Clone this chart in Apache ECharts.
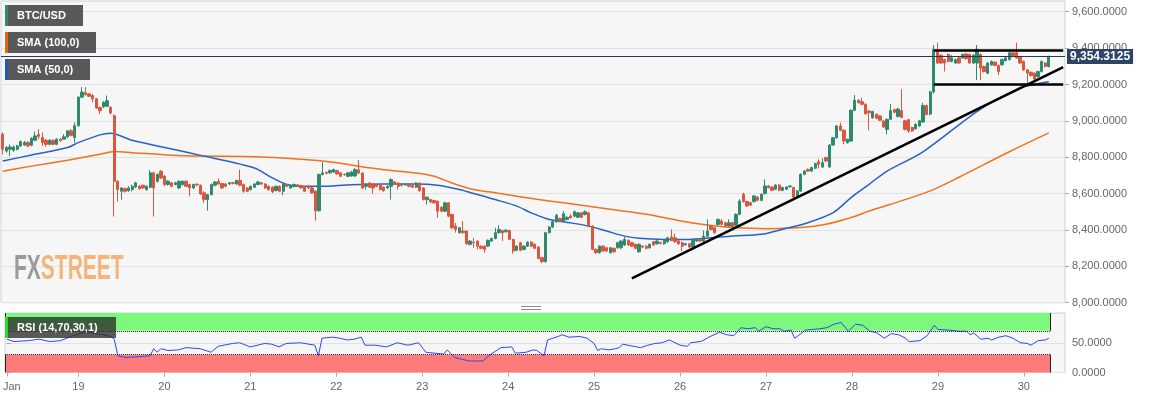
<!DOCTYPE html>
<html>
<head>
<meta charset="utf-8">
<script src="https://cdn.jsdelivr.net/npm/echarts@6/dist/echarts.min.js"></script>
<style>
html,body{margin:0;padding:0;background:#fff;}
#chart{width:1153px;height:399px;}
</style>
</head>
<body>
<div id="chart"></div>
<script>
// ---- categories: hourly candles, Jan 18 04:00 -> (296 slots) ----
const hourLabels = [];
const startTime = Date.UTC(2020, 0, 18, 4);
for (let i = 0; i < 296; i++) {
  const d = new Date(startTime + i * 3600000);
  hourLabels.push('Jan ' + d.getUTCDate() + ' ' + String(d.getUTCHours()).padStart(2, '0') + ':00');
}

// ---- BTC/USD hourly candles ----
const opens = [
8927,8834,8844,8838,8844,8862,8868,8881,8866,8893,8925,8908,8893,8871,8893,8871,8899,8899,8912,8945,
8908,8973,9130,9154,9148,9139,9121,9074,9078,9080,9074,9028,8668,8613,8627,8616,8622,8636,8640,8646,
8622,8635,8714,8668,8723,8696,8650,8659,8650,8631,8650,8668,8650,8631,8652,8646,8604,8567,8594,8646,
8668,8655,8653,8653,8660,8653,8672,8650,8631,8622,8635,8650,8659,8653,8640,8635,8617,8640,8613,8650,
8631,8640,8648,8644,8637,8640,8631,8613,8506,8705,8716,8714,8719,8727,8714,8706,8695,8697,8697,8731,
8713,8640,8658,8653,8649,8646,8635,8631,8640,8664,8658,8647,8648,8649,8646,8635,8658,8631,8567,8567,
8562,8558,8525,8503,8549,8485,8421,8385,8394,8394,8321,8332,8339,8311,8311,8311,8339,8353,8385,8397,
8390,8397,8348,8288,8330,8293,8311,8333,8321,8306,8248,8226,8385,8416,8445,8463,8448,8458,8476,8476,
8470,8494,8485,8494,8421,8293,8275,8311,8302,8275,8299,8302,8302,8317,8343,8330,8321,8280,8311,8311,
8302,8335,8324,8330,8324,8335,8361,8357,8339,8330,8319,8324,8306,8339,8348,8339,8366,8421,8412,8430,
8449,8440,8422,8440,8427,8486,8596,8556,8550,8556,8581,8563,8600,8642,8636,8624,8647,8618,8624,8638,
8633,8587,8614,8706,8733,8724,8739,8776,8746,8798,8746,8867,8907,8972,8948,8880,8889,9058,9113,9105,
9091,9054,9017,9036,9027,8999,8953,9009,9062,9024,9056,9000,9006,8963,8957,8972,8994,9084,9037,9159,
9380,9361,9337,9365,9327,9318,9346,9346,9368,9365,9318,9318,9365,9299,9262,9308,9323,9305,9308,9331,
9337,9374,9374,9350,9327,9280,9267,9262,9243,9271,9318,9299];
const closes = [
8844,8853,8856,8856,8862,8886,8881,8862,8904,8917,8915,8880,8871,8893,8871,8899,8890,8912,8945,8920,
8973,9130,9158,9145,9135,9121,9071,9056,9102,9111,9043,8668,8622,8631,8613,8631,8640,8659,8627,8631,
8640,8714,8631,8705,8686,8650,8668,8640,8659,8668,8668,8640,8631,8650,8648,8598,8567,8594,8650,8664,
8653,8631,8640,8659,8657,8672,8646,8613,8613,8640,8653,8664,8653,8631,8622,8609,8640,8613,8653,8640,
8646,8650,8642,8631,8613,8631,8604,8506,8705,8714,8712,8727,8732,8708,8695,8704,8714,8719,8732,8713,
8631,8653,8635,8631,8640,8622,8616,8640,8677,8653,8640,8645,8650,8640,8635,8658,8616,8567,8580,8554,
8549,8503,8503,8549,8476,8412,8403,8412,8385,8324,8339,8329,8311,8299,8293,8343,8353,8385,8403,8385,
8399,8348,8284,8311,8288,8311,8333,8311,8299,8244,8226,8385,8416,8445,8481,8448,8489,8470,8467,8500,
8494,8470,8500,8421,8293,8275,8311,8284,8284,8302,8280,8330,8339,8348,8317,8311,8299,8321,8306,8299,
8321,8317,8339,8326,8343,8357,8343,8335,8324,8311,8324,8306,8343,8348,8339,8366,8394,8403,8385,8458,
8431,8422,8440,8416,8486,8559,8556,8532,8537,8587,8563,8596,8642,8633,8618,8647,8618,8633,8636,8642,
8581,8614,8706,8724,8724,8743,8765,8761,8770,8779,8867,8907,8972,8948,8889,8898,9058,9113,9100,9091,
9039,9045,9051,9014,9003,8966,9008,9056,9047,9065,9019,8953,8944,8944,8981,9000,9084,9035,9159,9393,
9318,9318,9318,9327,9346,9337,9318,9365,9342,9318,9361,9393,9290,9271,9318,9327,9305,9271,9337,9346,
9374,9355,9346,9318,9280,9262,9249,9230,9271,9327,9299,9354.3125];
const lows = [
8816,8825,8807,8830,8838,8855,8862,8855,8860,8888,8899,8862,8858,8865,8866,8866,8885,8895,8905,8915,
8880,8968,9125,9138,9130,9102,9065,9037,9070,9075,9035,8474,8557,8566,8605,8610,8612,8630,8622,8625,
8615,8630,8474,8660,8680,8640,8644,8635,8645,8625,8644,8636,8585,8626,8640,8592,8549,8506,8590,8640,
8648,8626,8635,8648,8650,8648,8640,8604,8608,8617,8630,8645,8648,8626,8615,8603,8612,8608,8591,8635,
8626,8635,8637,8626,8608,8625,8598,8451,8500,8700,8705,8708,8714,8703,8690,8698,8690,8692,8692,8708,
8625,8622,8630,8600,8635,8617,8610,8626,8567,8648,8622,8640,8643,8635,8630,8630,8610,8562,8540,8549,
8544,8467,8498,8498,8470,8405,8385,8380,8380,8318,8315,8302,8293,8294,8275,8306,8334,8348,8380,8339,
8385,8343,8269,8283,8283,8288,8306,8306,8294,8238,8218,8220,8380,8410,8440,8443,8443,8453,8462,8470,
8465,8465,8480,8415,8288,8270,8270,8280,8279,8270,8275,8297,8293,8312,8312,8306,8294,8275,8300,8294,
8297,8312,8319,8320,8319,8330,8338,8330,8319,8284,8314,8300,8300,8334,8334,8334,8361,8398,8380,8425,
8425,8416,8417,8411,8422,8481,8550,8527,8532,8551,8558,8558,8595,8628,8613,8619,8613,8613,8619,8632,
8576,8582,8609,8701,8719,8719,8734,8739,8741,8774,8741,8862,8902,8943,8871,8875,8884,9053,9095,9086,
9034,8948,9012,9009,8998,8961,8926,9004,9042,9019,9014,8948,8934,8939,8952,8967,8989,9030,9030,9150,
9313,9313,9271,9322,9322,9313,9313,9341,9337,9313,9313,9224,9224,9266,9257,9303,9300,9252,9303,9326,
9332,9350,9341,9313,9275,9206,9244,9220,9238,9266,9294,9294];
const highs = [
8936,8862,8871,8865,8868,8892,8890,8888,8910,8941,8954,8936,8900,8900,8898,8905,8905,8927,8950,8955,
8991,9135,9185,9185,9152,9148,9125,9078,9108,9139,9080,9035,8672,8636,8632,8640,8650,8665,8648,8650,
8645,8729,8720,8712,8730,8700,8675,8664,8665,8672,8673,8672,8654,8655,8656,8650,8613,8598,8655,8668,
8683,8659,8658,8664,8665,8677,8732,8655,8636,8645,8658,8670,8664,8657,8645,8640,8645,8645,8657,8655,
8651,8655,8653,8649,8642,8645,8636,8618,8710,8772,8722,8732,8737,8731,8718,8710,8718,8724,8740,8785,
8718,8658,8663,8657,8654,8650,8640,8645,8684,8670,8662,8652,8655,8653,8650,8663,8662,8635,8585,8572,
8566,8562,8530,8554,8553,8490,8439,8417,8448,8398,8344,8357,8344,8316,8315,8348,8358,8412,8426,8401,
8404,8401,8352,8316,8335,8316,8338,8338,8326,8310,8252,8390,8421,8450,8489,8468,8503,8475,8489,8507,
8499,8499,8507,8499,8425,8298,8316,8316,8306,8307,8303,8335,8344,8361,8348,8335,8325,8326,8316,8316,
8326,8340,8344,8336,8348,8362,8403,8379,8344,8335,8329,8329,8348,8353,8353,8397,8458,8426,8417,8463,
8459,8445,8459,8445,8491,8569,8605,8561,8556,8592,8586,8601,8678,8647,8641,8652,8652,8638,8641,8647,
8638,8619,8711,8729,8738,8748,8770,8788,8794,8803,8872,8912,8977,8990,8953,8903,9063,9142,9118,9127,
9096,9059,9056,9041,9032,9004,9013,9093,9067,9070,9174,9005,9011,8968,8986,9005,9099,9090,9165,9417,
9430,9366,9342,9370,9361,9342,9351,9370,9373,9370,9366,9417,9370,9304,9323,9332,9328,9310,9342,9351,
9393,9379,9430,9355,9332,9285,9272,9267,9276,9331,9323,9358];

// ---- moving averages [candle index, value] ----
const sma100 = [[0,8723],[8,8751],[18,8783],[21,8794],[27,8816],[31,8831],[36,8825],[47,8811],[56,8806],
[70,8802],[84,8787],[93,8769],[99,8750],[106,8731],[115,8713],[120,8695],[125,8658],[131,8622],[137,8604],
[143,8585],[149,8567],[156,8549],[163,8531],[173,8503],[182,8476],[189,8448],[195,8430],[203,8413],
[213,8407],[222,8413],[229,8431],[236,8468],[241,8504],[247,8541],[258,8615],[266,8690],[280,8830],[291,8934]];
const sma50 = [[0,8779],[8,8812],[18,8853],[21,8880],[27,8923],[30,8932],[36,8893],[47,8845],[56,8806],
[70,8741],[75,8686],[79,8650],[82,8640],[88,8640],[97,8649],[106,8653],[115,8653],[121,8646],[127,8622],
[132,8595],[137,8567],[143,8531],[147,8494],[152,8458],[158,8439],[163,8421],[168,8394],[173,8366],
[177,8354],[184,8348],[191,8348],[197,8357],[203,8367],[211,8376],[217,8404],[224,8440],[231,8495],
[236,8578],[241,8651],[246,8724],[256,8830],[272,9065],[283,9181],[287,9200],[291,9215]];

// ---- RSI (14) [candle index, value] ----
const rsi = [[0,56],[2,52],[6,53.5],[9,56],[12,52],[15,53.5],[18,60.6],[21,66.5],[23,67.6],[25,65],[27,63.5],
[29,60.6],[30,56],[31,28],[33,25.3],[37,26.5],[40,28],[41,40],[42,34],[43,40],[45,37],[48,38],[50,41.8],
[54,40],[57,34],[59,44],[63,48.8],[65,50],[68,43],[72,48.8],[74,47.6],[76,43],[78,48.8],[82,50],[86,45.9],
[87,28],[88,57.6],[91,59.4],[93,57.6],[95,54.7],[97,56],[99,59.4],[100,45.9],[103,45.9],[106,43],[109,50],
[112,45.9],[115,50],[117,34],[122,31],[123,38],[125,25.3],[129,19.4],[133,19.4],[135,30],[138,41.8],
[141,43],[142,32.4],[145,34],[147,38],[148,37],[150,28],[151,54.7],[154,60.6],[155,63.5],[157,59.4],
[160,60.6],[162,57.6],[164,48.8],[165,37],[166,40],[168,38],[170,40],[171,41.8],[172,47.6],[175,44],
[177,41.8],[179,45.9],[181,48.8],[183,50],[185,54.7],[188,45.9],[190,44],[191,50],[194,52.4],[196,59.4],
[199,67.6],[201,63.5],[203,61.8],[205,75.3],[207,73.5],[209,75.3],[210,69.4],[212,77],[214,73.5],
[216,73.5],[217,69.4],[219,71.2],[220,57.6],[221,61.8],[223,71.2],[227,73.5],[229,75.3],[231,81.2],
[233,84.1],[235,69.4],[237,81.2],[239,79.4],[241,69.4],[243,66.5],[245,57.6],[247,65.3],[249,63.5],
[251,57.6],[252,51.8],[255,53.5],[257,61.8],[259,79.4],[260,72.4],[263,71.2],[266,69.4],[268,69.4],
[269,63.5],[270,66.5],[272,55.9],[274,57.6],[275,54.7],[277,59.4],[279,61.8],[281,57.6],[283,50],
[285,48.8],[286,45.9],[288,53.5],[290,54.7],[291,57.6]];

// ---- drawings (data coordinates: [candle index, price]) ----
const lastPrice = 9354.3125;
const trendLine = [[175, 8134], [295, 9295]];
const rangeTop = [[259, 9390], [295, 9390]];
const rangeBottom = [[259, 9203], [295, 9203]];
const rsiLevels = [30, 70];
const rsiBandStart = -0.5, rsiBandEnd = 291.5;

const candleData = opens.map((o, i) => [o, closes[i], lows[i], highs[i]]);

const FONT = 'Liberation Sans, Arial, sans-serif';
const fmt4 = v => Number(v).toLocaleString('en-US', {minimumFractionDigits: 4, maximumFractionDigits: 4});
const dayTick = (index, value) => index === 0 || String(value).endsWith(' 00:00');

const chart = echarts.init(document.getElementById('chart'), null, {renderer: 'canvas'});

function legendBox(top, width, barColor, text) {
  return [
    {type: 'rect', left: 5, top: top, shape: {width: width, height: 21}, style: {fill: 'rgba(45,45,45,0.78)'}, z: 100},
    {type: 'rect', left: 5, top: top, shape: {width: 3, height: 21}, style: {fill: barColor}, z: 101},
    {type: 'text', left: 17, top: top + 5, style: {text: text, fill: '#ffffff', font: 'bold 11px ' + FONT}, z: 102}
  ];
}

const blackSeg = (a, b) => [{coord: a}, {coord: b}];
const WM_FONT = 'bold 35px ' + FONT;

const option = {
  animation: false,
  textStyle: {fontFamily: FONT},
  grid: [
    {left: 1, top: 1, width: 1064, height: 301.7, show: true, backgroundColor: '#f6f6f6', borderColor: '#c9d1e3', borderWidth: 1},
    {left: 1, top: 313, width: 1064, height: 59.5, show: true, backgroundColor: '#f6f6f6', borderColor: '#c9d1e3', borderWidth: 1}
  ],
  xAxis: [
    {type: 'category', gridIndex: 0, data: hourLabels, boundaryGap: true,
     axisLine: {show: false}, axisTick: {show: false}, axisLabel: {show: false}, splitLine: {show: false}},
    {type: 'category', gridIndex: 1, data: hourLabels, boundaryGap: true,
     axisLine: {show: false},
     axisTick: {show: true, interval: dayTick, alignWithLabel: true, length: 4, lineStyle: {color: '#a8a8a8'}},
     axisLabel: {interval: dayTick, color: '#666', fontSize: 11, margin: 9,
       formatter: (value, index) => index === 0 ? '{j|Jan}' : value.split(' ')[1],
       rich: {j: {padding: [0, 0, 0, 10], color: '#666', fontSize: 11}}},
     splitLine: {show: false}},
    {type: 'value', gridIndex: 1, position: 'top', min: -0.5, max: 295.5, show: false}
  ],
  yAxis: [
    {type: 'value', gridIndex: 0, position: 'right', min: 8000, max: 9659, interval: 200,
     axisLine: {show: false},
     axisTick: {show: true, length: 4, lineStyle: {color: '#a8a8a8'}},
     axisLabel: {color: '#666', fontSize: 11, margin: 7, formatter: fmt4, showMaxLabel: false},
     splitLine: {show: true, lineStyle: {color: '#e2e2e2'}}},
    {type: 'value', gridIndex: 1, position: 'right', min: 0, max: 100, interval: 50,
     axisLine: {show: false},
     axisTick: {show: true, length: 4, lineStyle: {color: '#a8a8a8'}},
     axisLabel: {color: '#666', fontSize: 11, margin: 7, formatter: fmt4, showMaxLabel: false},
     splitLine: {show: true, lineStyle: {color: '#e2e2e2'}}}
  ],
  series: [
    {
      name: 'BTC/USD', type: 'candlestick', xAxisIndex: 0, yAxisIndex: 0, data: candleData,
      barWidth: 2.8,
      itemStyle: {color: '#2f8a6d', color0: '#d9573f', borderColor: '#2f8a6d', borderColor0: '#d9573f', borderWidth: 1},
      markLine: {
        silent: true, symbol: ['none', 'none'], animation: false,
        data: [
          {yAxis: lastPrice, lineStyle: {color: '#24385a', width: 1, type: 'solid'},
           label: {show: true, position: 'end', distance: 2, formatter: () => fmt4(lastPrice),
             backgroundColor: '#2d4467', color: '#fff', fontWeight: 'bold', fontSize: 12, padding: [2, 3, 1, 3]}},
          blackSeg(trendLine[0], trendLine[1]),
          blackSeg(rangeTop[0], rangeTop[1]),
          blackSeg(rangeBottom[0], rangeBottom[1])
        ],
        lineStyle: {color: '#000', width: 2.6, type: 'solid'},
        label: {show: false}
      },
      z: 3
    },
    {name: 'SMA (100,0)', type: 'line', xAxisIndex: 0, yAxisIndex: 0, data: sma100, symbol: 'none', smooth: 0.3,
     lineStyle: {color: '#f07220', width: 1.5}, z: 2},
    {name: 'SMA (50,0)', type: 'line', xAxisIndex: 0, yAxisIndex: 0, data: sma50, symbol: 'none', smooth: 0.3,
     lineStyle: {color: '#2462c8', width: 1.5}, z: 2},
    {name: 'bands', type: 'line', xAxisIndex: 2, yAxisIndex: 1, data: [], z: 1,
     markArea: {silent: true, data: [
       [{coord: [rsiBandStart, rsiLevels[1]], itemStyle: {color: '#7cf87c'}}, {coord: [rsiBandEnd, 100]}],
       [{coord: [rsiBandStart, 0], itemStyle: {color: '#fe7b7b'}}, {coord: [rsiBandEnd, rsiLevels[0]]}]
     ]},
     markLine: {silent: true, symbol: ['none', 'none'], label: {show: false},
       lineStyle: {color: '#222', width: 1, type: 'solid'},
       data: [
         [{coord: [rsiBandStart, rsiLevels[1]], lineStyle: {type: 'dotted', color: '#222'}}, {coord: [rsiBandEnd, rsiLevels[1]]}],
         [{coord: [rsiBandStart, rsiLevels[0]], lineStyle: {type: 'dotted', color: '#222'}}, {coord: [rsiBandEnd, rsiLevels[0]]}],
         blackSeg([rsiBandEnd, rsiLevels[1]], [rsiBandEnd, 100]),
         blackSeg([rsiBandEnd, 0], [rsiBandEnd, rsiLevels[0]]),
         blackSeg([rsiBandStart, rsiLevels[1]], [rsiBandStart, 100]),
         blackSeg([rsiBandStart, 0], [rsiBandStart, rsiLevels[0]])
       ]}},
    {name: 'RSI', type: 'line', xAxisIndex: 1, yAxisIndex: 1, data: rsi, symbol: 'none',
     lineStyle: {color: '#2e48f0', width: 1}, z: 3}
  ],
  graphic: [
    ...legendBox(5, 78, '#2e8b6e', 'BTC/USD'),
    ...legendBox(32, 91, '#e8640c', 'SMA (100,0)'),
    ...legendBox(59, 85, '#1f5bb8', 'SMA (50,0)'),
    ...legendBox(317, 111, '#22dd22', 'RSI (14,70,30,1)'),
    {type: 'text', x: 14, y: 252, z: 1, scaleX: 0.6, scaleY: 1,
     style: {text: '{a|FX}{b|STREET}', font: WM_FONT,
       rich: {a: {fill: '#9b9b9d', font: WM_FONT}, b: {fill: '#f3b57c', font: WM_FONT}}}},
    {type: 'line', shape: {x1: 521, y1: 306.5, x2: 541, y2: 306.5}, style: {stroke: '#8a8a8a', lineWidth: 1}},
    {type: 'line', shape: {x1: 521, y1: 309.5, x2: 541, y2: 309.5}, style: {stroke: '#8a8a8a', lineWidth: 1}}
  ]
};
chart.setOption(option);
</script>
</body>
</html>
